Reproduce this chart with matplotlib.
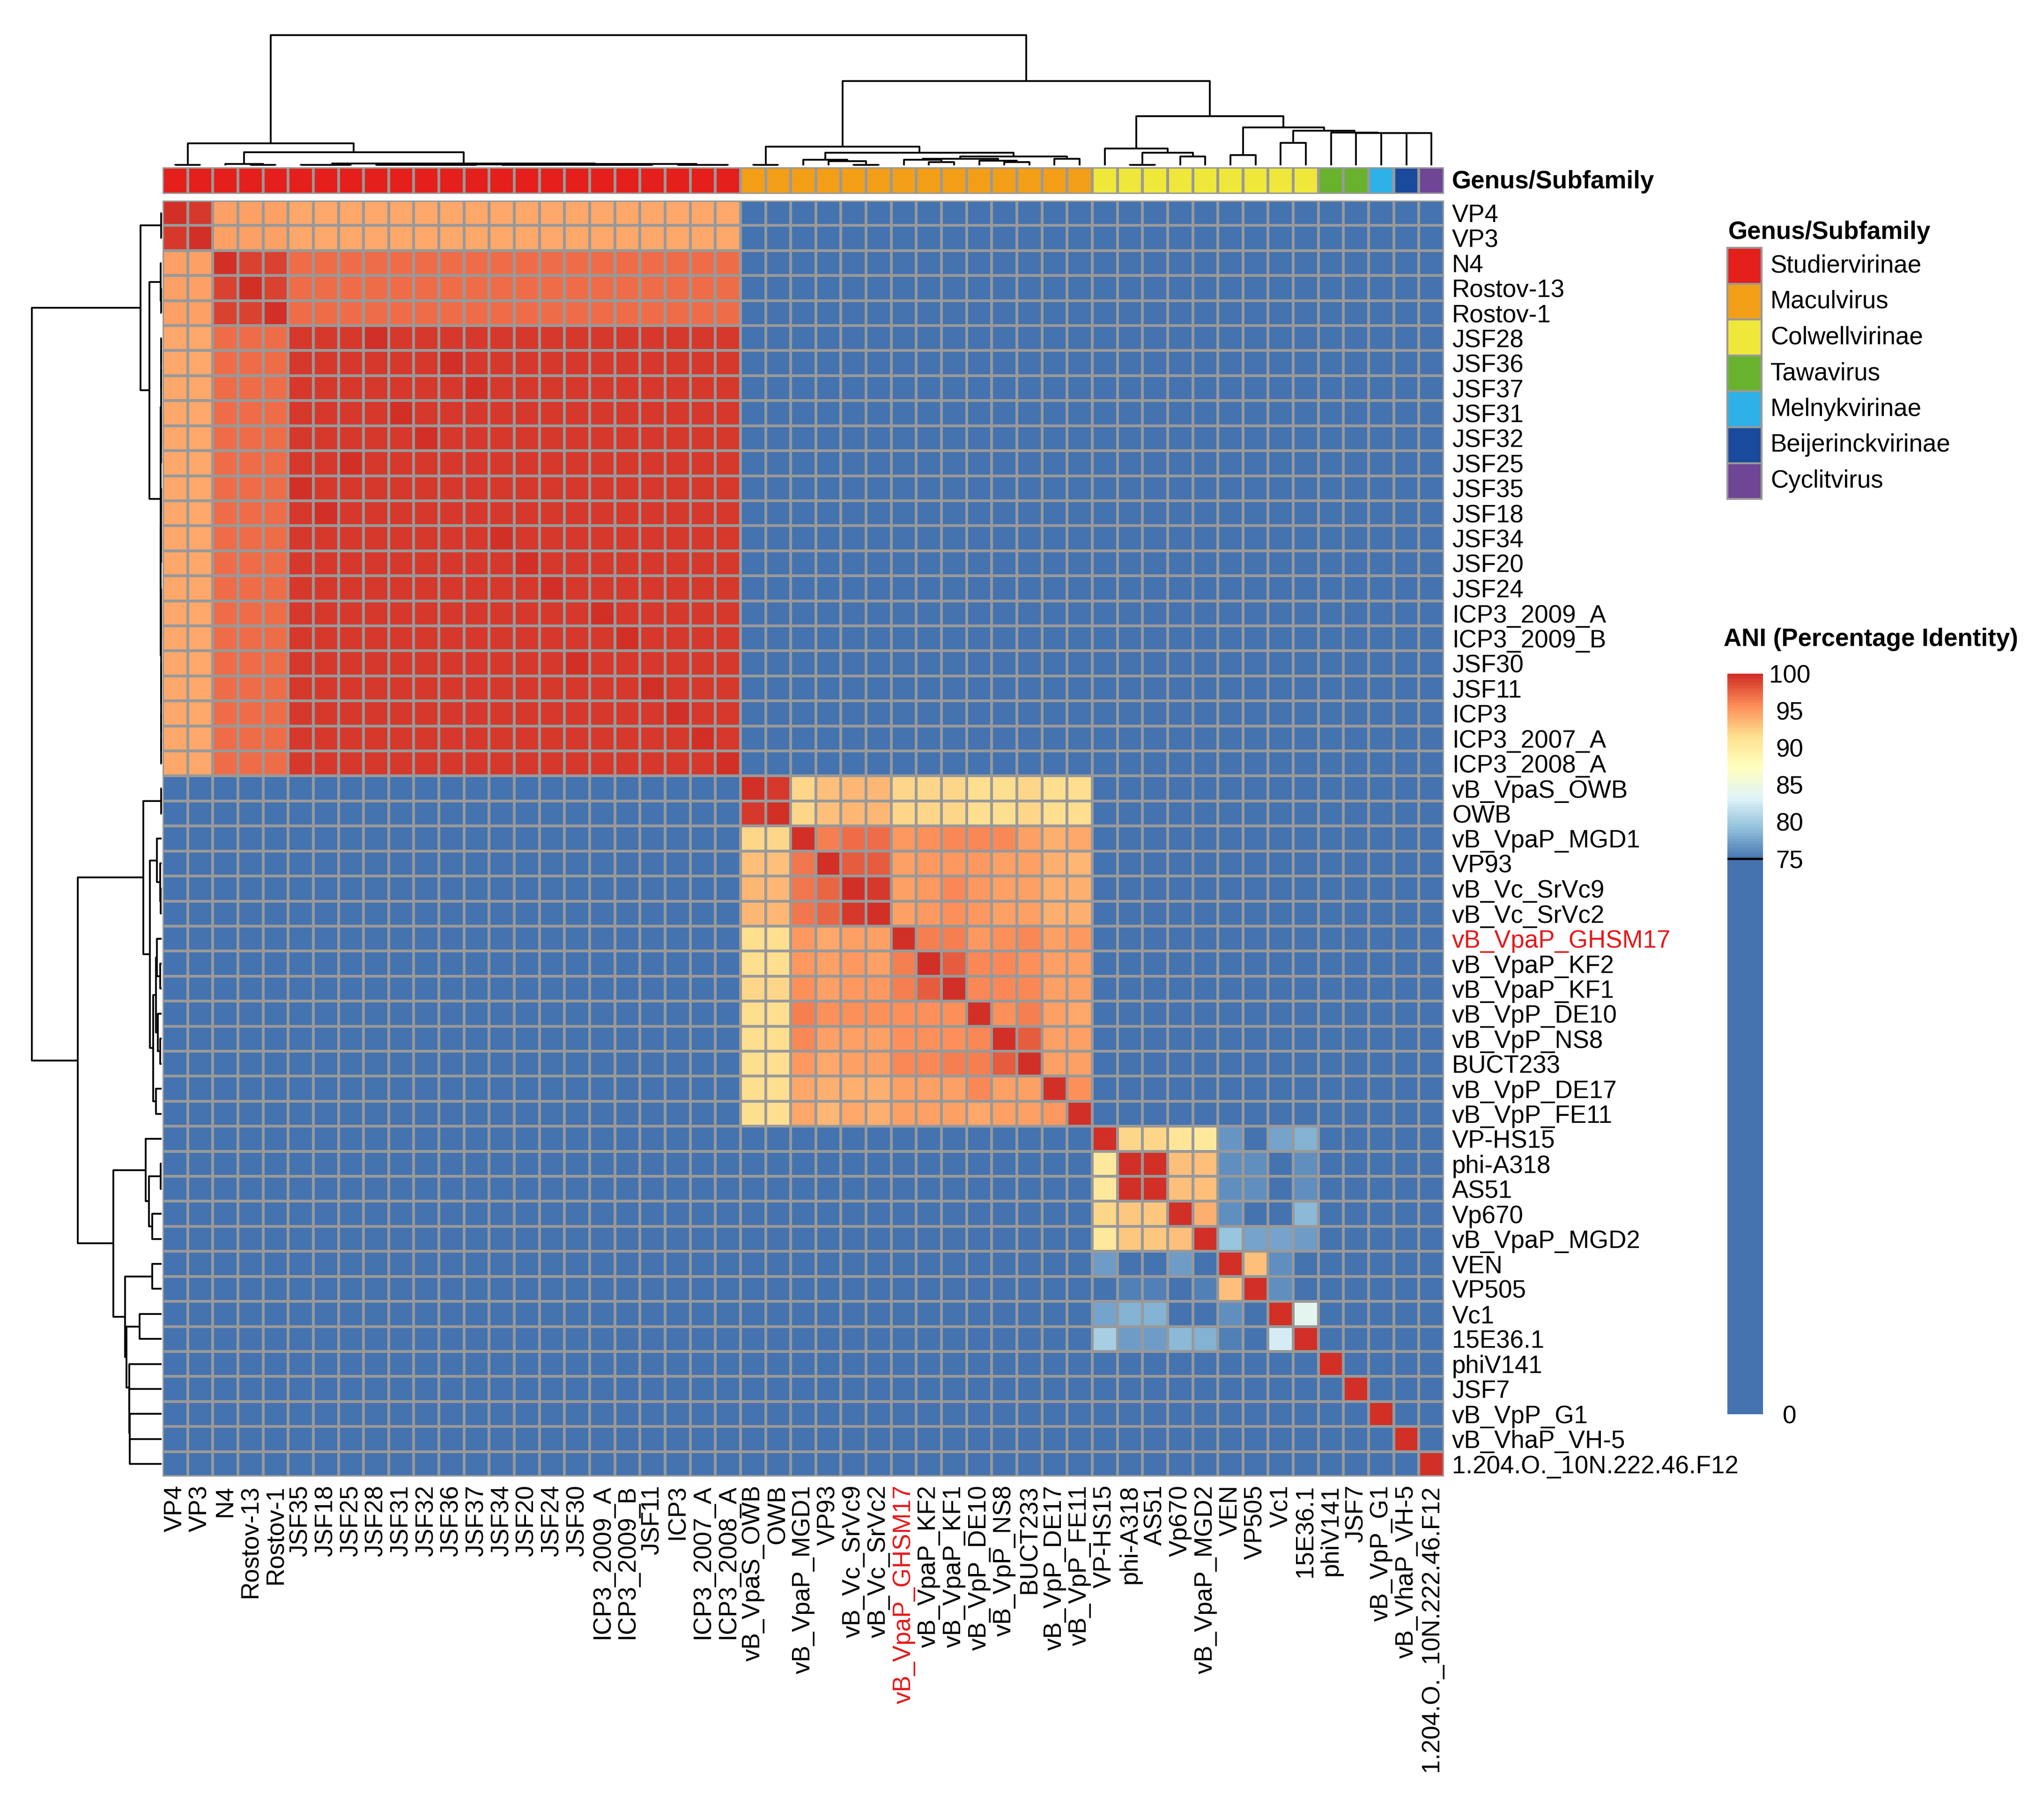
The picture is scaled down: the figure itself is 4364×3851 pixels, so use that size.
import numpy as np
import matplotlib
matplotlib.use('Agg')
import matplotlib.pyplot as plt
from matplotlib.colors import LinearSegmentedColormap, ListedColormap
from matplotlib.patches import Rectangle

plt.rcParams['font.family'] = ['Liberation Sans', 'DejaVu Sans']
FS = 12.7

# ---------------- data ----------------
# Studiervirinae sub-groups and their mutual ANI
vp_group = ['VP4', 'VP3']
n4_group = ['N4', 'Rostov-13', 'Rostov-1']
jsf_group = ['JSF28', 'JSF36', 'JSF37', 'JSF31', 'JSF32', 'JSF25', 'JSF35', 'JSF18',
             'JSF34', 'JSF20', 'JSF24', 'ICP3_2009_A', 'ICP3_2009_B', 'JSF30', 'JSF11',
             'ICP3', 'ICP3_2007_A', 'ICP3_2008_A']
studier_ani = [[99.3, 94.6, 94.5],
               [94.6, 99.2, 97.1],
               [94.5, 97.1, 99.3]]

macul_names = ['vB_VpaS_OWB', 'OWB', 'vB_VpaP_MGD1', 'VP93', 'vB_Vc_SrVc9', 'vB_Vc_SrVc2',
               'vB_VpaP_GHSM17', 'vB_VpaP_KF2', 'vB_VpaP_KF1', 'vB_VpP_DE10', 'vB_VpP_NS8',
               'BUCT233', 'vB_VpP_DE17', 'vB_VpP_FE11']
macul_ani = [
    [100, 99.6, 91.9, 93.2, 93.5, 93.5, 91.8, 91.8, 91.9, 91.6, 91.7, 91.8, 91.7, 91.5],
    [99.6, 100, 91.9, 93.2, 93.5, 93.5, 91.8, 91.8, 91.9, 91.6, 91.7, 91.8, 91.7, 91.5],
    [91.9, 91.9, 100, 96.2, 96.9, 96.9, 95.2, 95.6, 95.9, 95.9, 95.9, 94.8, 94.1, 94.5],
    [93.2, 93.2, 96.7, 100, 97.8, 97.8, 94.7, 95.2, 95.2, 95.2, 94.7, 94.7, 93.9, 93.4],
    [93.5, 93.5, 96.7, 97.6, 100, 99.6, 94.7, 95.3, 95.8, 95.3, 94.7, 94.7, 93.9, 93.9],
    [93.5, 93.5, 96.7, 97.6, 99.6, 100, 94.7, 95.3, 95.6, 95.3, 94.7, 94.7, 93.8, 93.8],
    [91.7, 91.7, 95.3, 94.5, 94.8, 94.8, 100, 96.1, 96.3, 95.3, 95.6, 95.9, 94.9, 95.2],
    [91.7, 91.7, 95.3, 94.8, 95.2, 94.8, 96.1, 100, 97.7, 95.8, 95.8, 95.7, 94.9, 94.9],
    [91.8, 91.8, 95.6, 94.8, 95.2, 95.2, 96.3, 97.7, 100, 95.8, 95.8, 95.9, 94.9, 94.9],
    [91.6, 91.6, 96.3, 95.6, 95.6, 95.6, 95.6, 95.6, 95.6, 100, 95.6, 96.2, 94.9, 94.5],
    [91.6, 91.6, 95.9, 94.7, 94.8, 94.8, 95.6, 95.6, 95.6, 95.9, 100, 97.7, 94.9, 94.9],
    [91.6, 91.6, 95.2, 94.3, 94.7, 94.7, 95.9, 95.9, 96.1, 96.3, 97.7, 100, 94.9, 94.9],
    [91.7, 91.7, 94.3, 93.9, 93.9, 93.9, 94.9, 94.9, 94.9, 95.8, 94.9, 94.9, 100, 95.7],
    [91.6, 91.6, 94.3, 93.4, 94.3, 93.9, 94.9, 94.9, 94.9, 94.3, 94.9, 94.9, 95.3, 100],
]

other_names = ['VP-HS15', 'phi-A318', 'AS51', 'Vp670', 'vB_VpaP_MGD2', 'VEN', 'VP505', 'Vc1',
               '15E36.1', 'phiV141', 'JSF7', 'vB_VpP_G1', 'vB_VhaP_VH-5',
               '1.204.O._10N.222.46.F12']
other_ani = [
    [100, 92.1, 92.1, 90.9, 90.6, 76.7, 0, 77.6, 78.4, 0, 0, 0, 0, 0],
    [90.6, 100, 99.7, 93.0, 93.0, 76.5, 76.5, 0, 76.5, 0, 0, 0, 0, 0],
    [90.6, 99.7, 100, 93.0, 93.0, 76.5, 76.5, 0, 76.5, 0, 0, 0, 0, 0],
    [91.8, 92.9, 92.9, 100, 93.9, 76.2, 0, 0, 78.8, 0, 0, 0, 0, 0],
    [90.6, 92.9, 92.9, 93.0, 100, 79.6, 77.6, 77.6, 77.0, 0, 0, 0, 0, 0],
    [77.0, 0, 0, 77.0, 0, 100, 93.0, 76.5, 0, 0, 0, 0, 0, 0],
    [0, 75.6, 75.6, 0, 75.6, 93.0, 100, 76.5, 0, 0, 0, 0, 0, 0],
    [77.6, 78.5, 78.5, 0, 0, 76.5, 0, 100, 83.8, 0, 0, 0, 0, 0],
    [80.2, 77.0, 77.0, 78.8, 78.4, 75.6, 0, 82.5, 100, 0, 0, 0, 0, 0],
    [0, 0, 0, 0, 0, 0, 0, 0, 0, 100, 0, 0, 0, 0],
    [0, 0, 0, 0, 0, 0, 0, 0, 0, 0, 100, 0, 0, 0],
    [0, 0, 0, 0, 0, 0, 0, 0, 0, 0, 0, 100, 0, 0],
    [0, 0, 0, 0, 0, 0, 0, 0, 0, 0, 0, 0, 100, 0],
    [0, 0, 0, 0, 0, 0, 0, 0, 0, 0, 0, 0, 0, 100],
]

genus_names = ['Studiervirinae', 'Maculvirus', 'Colwellvirinae', 'Tawavirus',
               'Melnykvirinae', 'Beijerinckvirinae', 'Cyclitvirus']
genus_colors = ['#E51F1C', '#F29F17', '#EFE73A', '#69B22D', '#2DB1E7', '#1A4A9B', '#6F4596']
genus_members = [vp_group + n4_group + jsf_group,
                 macul_names,
                 other_names[:9],
                 ['phiV141', 'JSF7'],
                 ['vB_VpP_G1'],
                 ['vB_VhaP_VH-5'],
                 ['1.204.O._10N.222.46.F12']]

highlight = 'vB_VpaP_GHSM17'

# dendrograms: (merge height, left, right), heights relative to root
jsf_row_tree = (0.008,
                (0.005, (0.003, (0.002, 'JSF28', 'JSF36'), 'JSF37'),
                        (0.003, (0.002, 'JSF31', 'JSF32'), 'JSF25')),
                (0.006, (0.004, (0.002, 'JSF35', 'JSF18'), (0.002, 'JSF34', 'JSF20')),
                        (0.005, (0.003, 'JSF24', (0.002, 'ICP3_2009_A', 'ICP3_2009_B')),
                                (0.004, (0.002, 'JSF30', 'JSF11'),
                                        (0.003, 'ICP3', (0.002, 'ICP3_2007_A', 'ICP3_2008_A'))))))
jsf_col_tree = (0.016,
                (0.004, (0.002, 'JSF35', 'JSF18'), 'JSF25'),
                (0.012,
                 (0.006, (0.004, (0.002, 'JSF28', 'JSF31'), (0.003, 'JSF32', (0.002, 'JSF36', 'JSF37'))),
                         (0.005, (0.003, (0.002, 'JSF34', 'JSF20'), 'JSF24'),
                                 (0.004, 'JSF30', (0.003, (0.002, 'ICP3_2009_A', 'ICP3_2009_B'), 'JSF11')))),
                 (0.004, 'ICP3', (0.002, 'ICP3_2007_A', 'ICP3_2008_A'))))

row_tree = (1.0,
            (0.163, (0.004, 'VP4', 'VP3'),
                    (0.094, (0.006, 'N4', (0.003, 'Rostov-13', 'Rostov-1')), jsf_row_tree)),
            (0.647,
             (0.142, (0.002, 'vB_VpaS_OWB', 'OWB'),
                     (0.090, (0.036, 'vB_VpaP_MGD1', (0.012, 'VP93', (0.006, 'vB_Vc_SrVc9', 'vB_Vc_SrVc2'))),
                             (0.066, (0.045, (0.036, 'vB_VpaP_GHSM17', (0.012, 'vB_VpaP_KF2', 'vB_VpaP_KF1')),
                                             (0.030, 'vB_VpP_DE10', (0.012, 'vB_VpP_NS8', 'BUCT233'))),
                                     (0.042, 'vB_VpP_DE17', 'vB_VpP_FE11')))),
             (0.371,
              (0.123, 'VP-HS15', (0.096, (0.006, 'phi-A318', 'AS51'), (0.072, 'Vp670', 'vB_VpaP_MGD2'))),
              (0.283, (0.072, 'VEN', 'VP505'),
                      (0.269, (0.169, 'Vc1', '15E36.1'),
                              (0.249, 'phiV141',
                               (0.248, 'JSF7',
                                (0.247, 'vB_VpP_G1',
                                 (0.246, 'vB_VhaP_VH-5', '1.204.O._10N.222.46.F12')))))))))

col_tree = (1.0,
            (0.168, (0.004, 'VP4', 'VP3'),
                    (0.102, (0.012, 'N4', (0.004, 'Rostov-13', 'Rostov-1')), jsf_col_tree)),
            (0.649,
             (0.144, (0.004, 'vB_VpaS_OWB', 'OWB'),
                     (0.098, (0.044, 'vB_VpaP_MGD1', (0.034, 'VP93', (0.004, 'vB_Vc_SrVc9', 'vB_Vc_SrVc2'))),
                             (0.069, (0.050, (0.042, 'vB_VpaP_GHSM17', (0.024, 'vB_VpaP_KF2', 'vB_VpaP_KF1')),
                                             (0.036, 'vB_VpP_DE10', (0.024, 'vB_VpP_NS8', 'BUCT233'))),
                                     (0.050, 'vB_VpP_DE17', 'vB_VpP_FE11')))),
             (0.377,
              (0.128, 'VP-HS15', (0.098, (0.004, 'phi-A318', 'AS51'), (0.069, 'Vp670', 'vB_VpaP_MGD2'))),
              (0.293, (0.080, 'VEN', 'VP505'),
                      (0.266, (0.174, 'Vc1', '15E36.1'),
                              (0.251, 'phiV141',
                               (0.250, 'JSF7',
                                (0.249, 'vB_VpP_G1',
                                 (0.248, 'vB_VhaP_VH-5', '1.204.O._10N.222.46.F12')))))))))


def leaves(node):
    if isinstance(node, str):
        return [node]
    return leaves(node[1]) + leaves(node[2])


def draw_tree(ax, node, pos, top):
    if isinstance(node, str):
        return pos[node], 0.0
    h, a, b = node
    ca, ha = draw_tree(ax, a, pos, top)
    cb, hb = draw_tree(ax, b, pos, top)
    xs = [ca, ca, cb, cb]
    ys = [ha, h, h, hb]
    if top:
        ax.plot(xs, ys, color='black', lw=0.9, solid_capstyle='butt', clip_on=False)
    else:
        ax.plot(ys, xs, color='black', lw=0.9, solid_capstyle='butt', clip_on=False)
    return (ca + cb) / 2, h


row_labels = leaves(row_tree)
col_labels = leaves(col_tree)
n = len(row_labels)

# ANI lookup
ani = {}
parts = [vp_group, n4_group, jsf_group]
for i, pa in enumerate(parts):
    for j, pb in enumerate(parts):
        for a in pa:
            for b in pb:
                ani[a, b] = studier_ani[i][j]
for a in vp_group + n4_group + jsf_group:
    ani[a, a] = 100.0
for names, vals in [(macul_names, macul_ani), (other_names, other_ani)]:
    for i, a in enumerate(names):
        for j, b in enumerate(names):
            ani[a, b] = vals[i][j]
M = np.array([[ani.get((r, c), 0.0) for c in col_labels] for r in row_labels])

genus_of = {}
for g, members in enumerate(genus_members):
    for m in members:
        genus_of[m] = g
annot = np.array([[genus_of[c] for c in col_labels]])

# colour scale: flat blue below 75, RdYlBu ramp from 75 to 100
ramp = ['#4473B0', '#91BFDB', '#E0F3F8', '#FFFFBF', '#FEE090', '#FC8D59', '#D23027']
nodes = [0.0] + list(np.linspace(0.75, 1.0, len(ramp)))
cmap = LinearSegmentedColormap.from_list('ani', list(zip(nodes, [ramp[0]] + ramp)))

# ---------------- layout (pixel based) ----------------
W, H = 4364, 3851
fig = plt.figure(figsize=(W / 300, H / 300), dpi=300)


def px_axes(x0, y0, x1, y1):
    return fig.add_axes([x0 / W, 1 - y1 / H, (x1 - x0) / W, (y1 - y0) / H])


ax = px_axes(347, 428, 3083, 3152)
mesh = ax.pcolormesh(M, cmap=cmap, vmin=0, vmax=100, edgecolors='#999999', linewidth=1.0)
ax.set_xlim(0, n)
ax.set_ylim(n, 0)
ax.set_xticks(np.arange(n) + 0.5)
ax.set_xticklabels(col_labels, rotation=90, fontsize=FS)
ax.set_yticks(np.arange(n) + 0.5)
ax.set_yticklabels(row_labels, fontsize=FS)
ax.yaxis.tick_right()
ax.tick_params(axis='y', length=0, pad=4.1)
ax.tick_params(axis='x', length=0, pad=4.3)
for lbl in ax.get_xticklabels() + ax.get_yticklabels():
    if lbl.get_text() == highlight:
        lbl.set_color('#E41A1C')
for s in ax.spines.values():
    s.set_visible(False)

# annotation bar
axa = px_axes(347, 357, 3083, 414)
axa.pcolormesh(annot, cmap=ListedColormap(genus_colors), vmin=-0.5, vmax=len(genus_colors) - 0.5,
               edgecolors='#999999', linewidth=1.0)
axa.set_xlim(0, n)
axa.set_ylim(1, 0)
axa.axis('off')

# dendrograms
axt = px_axes(347, 75, 3083, 353)
draw_tree(axt, col_tree, {c: i + 0.5 for i, c in enumerate(col_labels)}, True)
axt.set_xlim(0, n)
axt.set_ylim(0, 1.0)
axt.axis('off')

axl = px_axes(68, 428, 345, 3152)
draw_tree(axl, row_tree, {r: i + 0.5 for i, r in enumerate(row_labels)}, False)
axl.set_ylim(n, 0)
axl.set_xlim(1.0, 0)
axl.axis('off')

# overlay for legend text
ov = fig.add_axes([0, 0, 1, 1])
ov.set_xlim(0, W)
ov.set_ylim(H, 0)
ov.axis('off')

ov.text(3100, 388, 'Genus/Subfamily', fontsize=FS, fontweight='bold', ha='left', va='center')

ov.text(3690, 496, 'Genus/Subfamily', fontsize=FS, fontweight='bold', ha='left', va='center')
box_h = 76.6
for i, (g, c) in enumerate(zip(genus_names, genus_colors)):
    y0 = 529 + i * box_h
    ov.add_patch(Rectangle((3688, y0), 73, box_h, facecolor=c, edgecolor='#999999', lw=1.0))
    ov.text(3780, y0 + box_h / 2, g, fontsize=FS, ha='left', va='center')

ov.text(3680, 1365, 'ANI (Percentage Identity)', fontsize=FS, fontweight='bold',
        ha='left', va='center')

cax = px_axes(3688, 1438, 3764, 3019)
cb = fig.colorbar(mesh, cax=cax, ticks=[0, 75, 80, 85, 90, 95, 100])
cb.outline.set_visible(False)
cax.tick_params(length=0, pad=13.7, labelsize=FS)
for t in cax.get_yticklabels():
    t.set_ha('center')
cax.axhline(75, color='black', lw=1.2)

fig.savefig('out.png', dpi=300)
